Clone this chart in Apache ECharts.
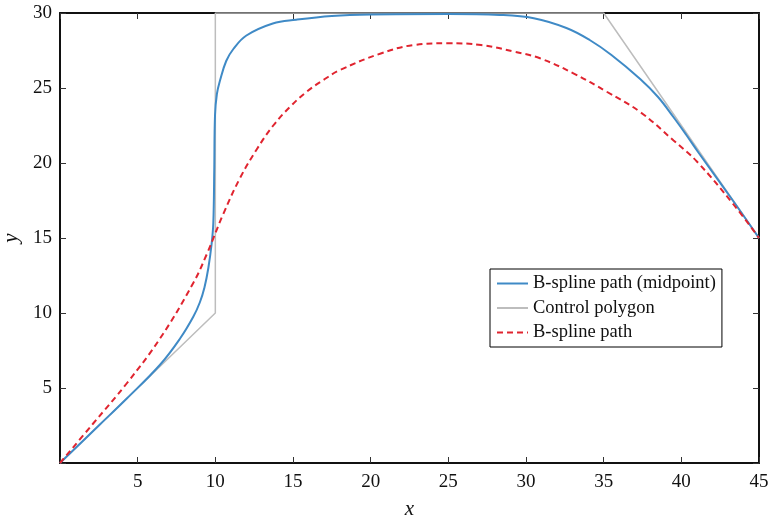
<!DOCTYPE html>
<html>
<head>
<meta charset="UTF-8">
<title>B-spline path</title>
<style type="text/css">
	html, body { margin: 0; padding: 0; background: #fff; }
	.chart { width: 769px; height: 521px; }
</style>
</head>
<body>
<div class="chart"></div>
<script src="https://cdn.jsdelivr.net/npm/echarts@6/dist/echarts.min.js"></script>
<script type="text/javascript">
	// control polygon vertices
	var polyX = [0, 10, 10, 35, 45];
	var polyY = [0, 10, 30, 30, 15];

	// B-spline path (midpoint)
	var midX = [0, 2.5, 4.3, 6.44, 7.73, 8.58, 9.0, 9.3, 9.55, 9.76, 9.87, 9.93, 9.98, 10.1, 10.3, 10.7, 11.16, 12.0, 13.7, 15.2, 17.5, 20, 25, 28.3, 30.5, 32.6, 34.1, 35.5, 37.35, 38.5, 39.5, 40.3, 41.1, 43.35, 45];
	var midY = [0, 2.5, 4.3, 6.55, 8.3, 9.75, 10.7, 11.7, 13.0, 14.6, 16.0, 19.5, 23.2, 24.6, 25.5, 26.8, 27.6, 28.5, 29.3, 29.55, 29.8, 29.9, 29.93, 29.87, 29.65, 29.0, 28.2, 27.2, 25.6, 24.4, 23.05, 21.9, 20.7, 17.45, 15];

	// B-spline path
	var bsX = [0, 2.15, 4.29, 6.44, 8.58, 9.44, 10.51, 11.59, 12.66, 13.73, 14.81, 15.88, 16.95, 18.03, 20.65, 22.8, 24.95, 27.1, 29.25, 30.9, 33.05, 35.2, 37.35, 39.5, 41.0, 43.35, 45];
	var bsY = [0, 2.65, 5.3, 8.3, 12.0, 13.9, 16.6, 19.0, 20.9, 22.5, 23.75, 24.75, 25.53, 26.2, 27.3, 27.87, 27.98, 27.87, 27.42, 26.98, 25.98, 24.75, 23.4, 21.5, 20.1, 17.25, 15];

	var xTicks = [5, 10, 15, 20, 25, 30, 35, 40, 45];
	var yTicks = [5, 10, 15, 20, 25, 30];

	function pairs(xs, ys) {
		var out = [];
		for (var i = 0; i < xs.length; i++) out.push([xs[i], ys[i]]);
		return out;
	}

	var serif = 'Liberation Serif';
	var chart = echarts.init(document.querySelector('.chart'));

	function axisBase(extra) {
		var a = {
			type: 'value',
			splitLine: { show: false },
			axisLine: { show: true, onZero: false, lineStyle: { color: '#111', width: 2 } },
			axisTick: { show: true, inside: true, length: 6, lineStyle: { color: '#333', width: 1 } }
		};
		for (var k in extra) a[k] = extra[k];
		return a;
	}

	var option = {
		animation: false,
		backgroundColor: '#fff',
		grid: { left: 60, right: 10, top: 13, bottom: 58, outerBoundsMode: 'none', containLabel: false },
		legend: {
			orient: 'vertical',
			left: 490,
			top: 269,
			backgroundColor: '#fff',
			borderColor: '#000',
			borderWidth: 1,
			borderRadius: 0,
			padding: [5, 6, 5, 6],
			itemGap: 5.5,
			itemWidth: 31,
			itemHeight: 1,
			textStyle: { fontFamily: serif, fontSize: 18.5, color: '#111' },
			data: ['B-spline path (midpoint)', 'Control polygon', 'B-spline path']
		},
		xAxis: [
			axisBase({
				min: 0, max: 45, interval: 5, position: 'bottom',
				name: 'x', nameLocation: 'middle', nameGap: 36,
				nameTextStyle: { fontFamily: serif, fontStyle: 'italic', fontSize: 21, color: '#111' },
				axisLabel: {
					fontFamily: serif, fontSize: 19, color: '#111', margin: 10,
					formatter: function (v) { return xTicks.indexOf(v) >= 0 ? String(v) : ''; }
				}
			}),
			axisBase({ min: 0, max: 45, interval: 5, position: 'top', axisLabel: { show: false } })
		],
		yAxis: [
			axisBase({
				min: 0, max: 30, interval: 5, position: 'left',
				name: 'y', nameLocation: 'middle', nameGap: 37, nameRotate: 90,
				nameTextStyle: { fontFamily: serif, fontStyle: 'italic', fontSize: 21, color: '#111' },
				axisLabel: {
					fontFamily: serif, fontSize: 19, color: '#111', margin: 8,
					formatter: function (v) { return yTicks.indexOf(v) >= 0 ? String(v) : ''; }
				}
			}),
			axisBase({ min: 0, max: 30, interval: 5, position: 'right', axisLabel: { show: false } })
		],
		series: [
			{
				name: 'B-spline path (midpoint)',
				type: 'line',
				data: pairs(midX, midY),
				showSymbol: false,
				symbol: 'none',
				smooth: 0.4,
				lineStyle: { color: '#3f8ac6', width: 2 },
				itemStyle: { color: '#3f8ac6', borderWidth: 0 },
				z: 3
			},
			{
				name: 'Control polygon',
				type: 'line',
				data: pairs(polyX, polyY),
				showSymbol: false,
				symbol: 'none',
				lineStyle: { color: '#bdbdbd', width: 1.5 },
				itemStyle: { color: '#bdbdbd', borderWidth: 0 },
				z: 2
			},
			{
				name: 'B-spline path',
				type: 'line',
				data: pairs(bsX, bsY),
				showSymbol: false,
				symbol: 'none',
				smooth: 0.4,
				lineStyle: { color: '#e0242f', width: 2, type: [6, 4] },
				itemStyle: { color: '#e0242f', borderWidth: 0 },
				z: 4
			}
		]
	};

	chart.setOption(option);
</script>
</body>
</html>
